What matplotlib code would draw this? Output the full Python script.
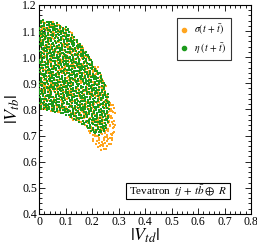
import numpy as np
import matplotlib
matplotlib.use('Agg')
import matplotlib.pyplot as plt
from matplotlib.path import Path
from matplotlib.patches import Rectangle

# boundary of the allowed region from sigma(t + tbar)
sigma_x = [0.0, 0.04, 0.07, 0.10, 0.13, 0.16, 0.19, 0.22, 0.25, 0.262, 0.287, 0.290,
           0.288, 0.275, 0.256, 0.230, 0.218, 0.200, 0.170, 0.10, 0.04, 0.0]
sigma_y = [1.144, 1.139, 1.129, 1.116, 1.090, 1.046, 1.000, 0.963, 0.900, 0.850, 0.800, 0.747,
           0.708, 0.670, 0.647, 0.644, 0.657, 0.689, 0.730, 0.780, 0.794, 0.800]

# boundary of the allowed region from eta (t + tbar)
eta_x = [0.0, 0.042, 0.073, 0.10, 0.13, 0.16, 0.193, 0.218, 0.243, 0.258, 0.265, 0.265,
         0.250, 0.230, 0.200, 0.16, 0.10, 0.042, 0.0]
eta_y = [1.144, 1.139, 1.129, 1.116, 1.090, 1.046, 1.000, 0.963, 0.912, 0.874, 0.830, 0.760,
         0.720, 0.700, 0.712, 0.745, 0.780, 0.794, 0.800]


def halton(n, base):
    out = np.zeros(n)
    for k in range(n):
        f, r, i = 1.0, 0.0, k + 1
        while i > 0:
            f /= base
            r += f * (i % base)
            i //= base
        out[k] = r
    return out


def scan_points(xs, ys, n, b1, b2):
    # deterministic scan over the box (Halton), kept inside the region
    path = Path(np.column_stack([xs, ys]))
    u = halton(n, b1)
    v = halton(n, b2)
    px = min(xs) + u * (max(xs) - min(xs))
    py = min(ys) + v * (max(ys) - min(ys))
    keep = path.contains_points(np.column_stack([px, py]))
    return px[keep], py[keep]


plt.rcParams['font.family'] = 'serif'
plt.rcParams['font.serif'] = ['Liberation Serif', 'DejaVu Serif']
plt.rcParams['mathtext.fontset'] = 'stix'

fig = plt.figure(figsize=(2.57, 2.45), dpi=100)
ax = fig.add_axes([0.152, 0.127, 0.825, 0.853])

sx, sy = scan_points(sigma_x, sigma_y, 1300, 2, 3)
ex, ey = scan_points(eta_x, eta_y, 1500, 5, 7)

ax.scatter(sx, sy, s=1.6, color='#FFA51F', marker='s', linewidths=0, zorder=2)
ax.scatter(ex, ey, s=1.6, color='#1C9A1C', marker='s', linewidths=0, zorder=3)

# legend handles
ax.plot([], [], 'o', color='#FFA51F', ms=3, label=r'$\sigma(t\,+\,\bar{t})$')
ax.plot([], [], 'o', color='#1C9A1C', ms=3, label=r'$\eta\ (t\,+\,\bar{t})$')
leg = ax.legend(loc='upper right', bbox_to_anchor=(0.906, 0.937), fontsize=7,
                frameon=True, fancybox=False, handlelength=0.5, handletextpad=0.8,
                borderpad=0.45, labelspacing=0.4, borderaxespad=0)
leg.get_frame().set_edgecolor('black')
leg.get_frame().set_linewidth(0.8)

# label box with a small shadow
ax.add_patch(Rectangle((0.415, 0.067), 0.49, 0.078, transform=ax.transAxes,
                       facecolor='#888888', edgecolor='none', zorder=4))
ax.add_patch(Rectangle((0.41, 0.072), 0.49, 0.078, transform=ax.transAxes,
                       facecolor='white', edgecolor='black', linewidth=0.8, zorder=5))
ax.text(0.655, 0.111, r'Tevatron  $tj\,+\,t\bar{b}\oplus\ R$', transform=ax.transAxes,
        ha='center', va='center', fontsize=8, zorder=6)

ax.set_xlim(0, 0.8)
ax.set_ylim(0.4, 1.2)
ax.set_xticks(np.arange(0, 0.81, 0.1))
ax.set_yticks(np.arange(0.4, 1.21, 0.1))
ax.set_xticklabels(['0', '0.1', '0.2', '0.3', '0.4', '0.5', '0.6', '0.7', '0.8'])
ax.set_yticklabels(['0.4', '0.5', '0.6', '0.7', '0.8', '0.9', '1.0', '1.1', '1.2'])
ax.set_xticks(np.arange(0, 0.81, 0.02), minor=True)
ax.set_yticks(np.arange(0.4, 1.21, 0.02), minor=True)
ax.tick_params(which='both', direction='in', top=True, right=True, labelsize=8.5,
               width=0.6, pad=1.5)
ax.tick_params(which='major', length=4)
ax.tick_params(which='minor', length=2)
for sp in ax.spines.values():
    sp.set_linewidth(0.8)

ax.set_xlabel(r'$|V_{td}|$', fontsize=13, labelpad=-1)
ax.set_ylabel(r'$|V_{tb}|$', fontsize=13, labelpad=0)

fig.savefig('out.png', dpi=100)
